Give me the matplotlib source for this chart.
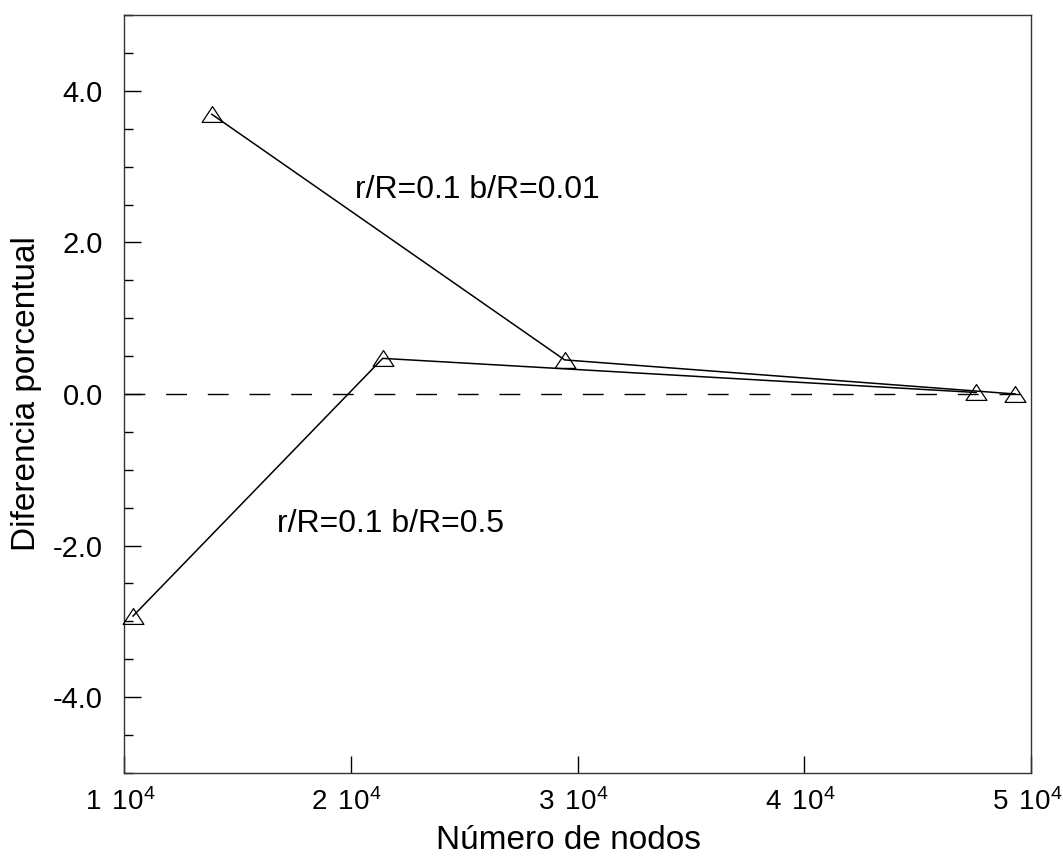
import matplotlib
matplotlib.use("Agg")
import matplotlib.pyplot as plt
import matplotlib.ticker as ticker
import matplotlib.transforms as mtransforms
from matplotlib.path import Path

plt.rcParams['font.family'] = ['Liberation Sans', 'DejaVu Sans']
plt.rcParams['mathtext.fontset'] = 'custom'
plt.rcParams['mathtext.rm'] = 'Liberation Sans'
plt.rcParams['mathtext.it'] = 'Liberation Sans:italic'

# datos
nodos_b001 = [13877, 29430, 49295]
dif_b001 = [3.69, 0.45, 0.0]
nodos_b05 = [10400, 21410, 47577]
dif_b05 = [-2.93, 0.47, 0.02]

etiqueta_b001 = "r/R=0.1 b/R=0.01"
etiqueta_b05 = "r/R=0.1 b/R=0.5"

# triangulo hueco algo achatado
tri = Path([(-1, -0.76), (1, -0.76), (0, 0.76), (-1, -0.76)],
           [Path.MOVETO, Path.LINETO, Path.LINETO, Path.CLOSEPOLY])

fig = plt.figure(figsize=(10.63, 8.58), dpi=100)
ax = fig.add_axes([0.1166, 0.0991, 0.8534, 0.8834])

for xs, ys in [(nodos_b001, dif_b001), (nodos_b05, dif_b05)]:
    ax.plot(xs, ys, color='black', linewidth=1.1, zorder=3)
    ax.plot(xs, ys, linestyle='none', marker=tri, markersize=15,
            markerfacecolor='none', markeredgecolor='black',
            markeredgewidth=0.9, zorder=4, clip_on=False)

# linea de referencia en cero
ax.plot([10000, 50350], [0, 0], color='black', linewidth=1.0,
        dashes=(15, 15), clip_on=False, zorder=2)

ax.text(20176, 2.58, etiqueta_b001, fontsize=23)
ax.text(16740, -1.816, etiqueta_b05, fontsize=23)

ax.set_xlim(10000, 50000)
ax.set_ylim(-5, 5)

ax.xaxis.set_major_locator(ticker.MultipleLocator(10000))
ax.xaxis.set_major_formatter(ticker.FuncFormatter(
    lambda v, p: r'$\mathregular{%d\ \,10^{4}}$' % round(v / 1e4)))
ax.yaxis.set_major_locator(ticker.MultipleLocator(2))
ax.yaxis.set_minor_locator(ticker.MultipleLocator(0.5))
ax.yaxis.set_major_formatter(ticker.FuncFormatter(lambda v, p: '%.1f' % v))

ax.tick_params(axis='both', which='major', direction='in', labelsize=21,
               width=1.0, length=12, top=False, right=False)
ax.tick_params(axis='x', which='major', labelsize=20, pad=11)
ax.tick_params(axis='y', which='major', pad=15)
ax.tick_params(axis='y', which='minor', direction='in', length=6.5,
               width=1.0, right=False)

for s in ax.spines.values():
    s.set_linewidth(1.0)
    s.set_color('#333333')

ax.set_xlabel("Número de nodos", fontsize=24)
ax.set_ylabel("Diferencia porcentual", fontsize=24, labelpad=8)
ax.xaxis.set_label_coords(0.49, -0.1)
ax.xaxis.label.set_va('baseline')

# etiquetas del eje x un poco a la izquierda, como en el original
fig.canvas.draw()
desplaz = mtransforms.ScaledTranslation(-4 / 100, 0, fig.dpi_scale_trans)
for lab in ax.get_xticklabels():
    lab.set_transform(lab.get_transform() + desplaz)

plt.savefig("out.png", dpi=100)
plt.close()
